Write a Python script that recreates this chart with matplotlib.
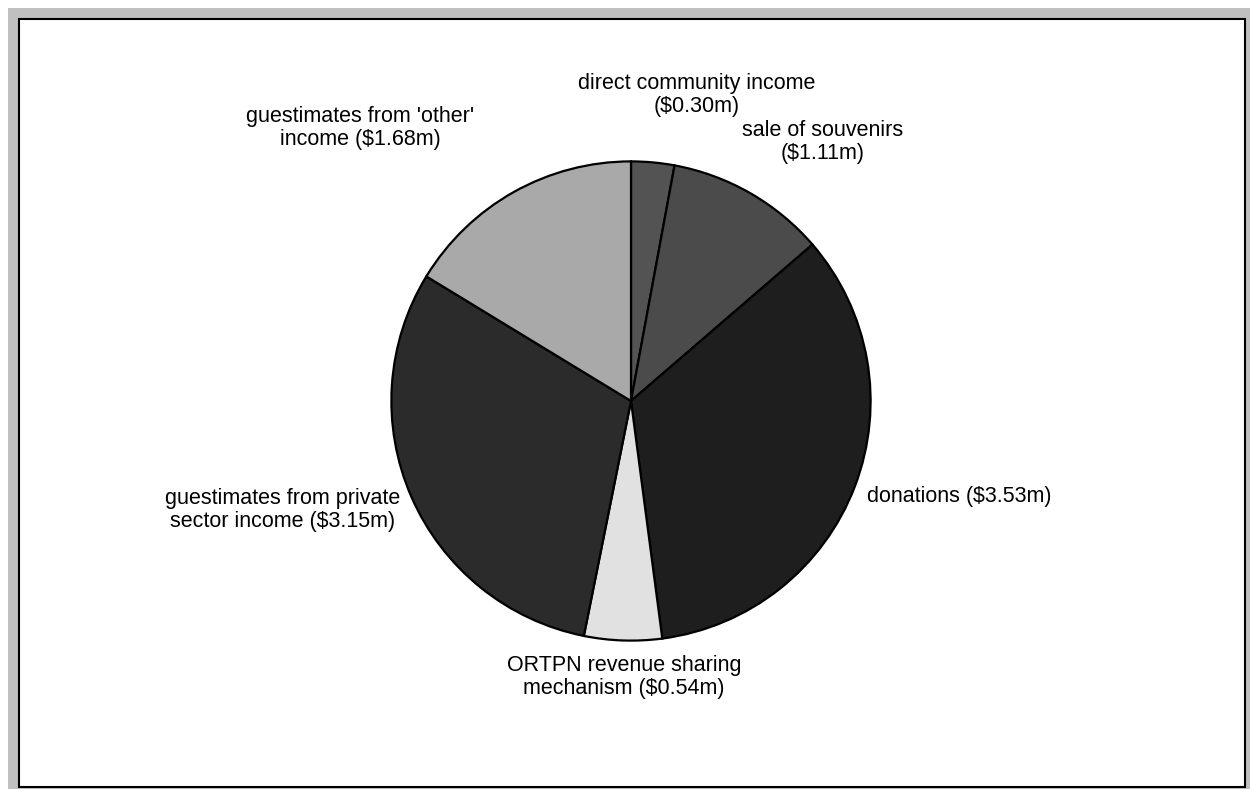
import matplotlib.pyplot as plt
from matplotlib.patches import Rectangle

plt.rcParams['font.family'] = ['Liberation Sans', 'DejaVu Sans']

# income sources, in $ millions, clockwise from the top
labels = ['direct community income\n($0.30m)',
          'sale of souvenirs\n($1.11m)',
          'donations ($3.53m)',
          'ORTPN revenue sharing\nmechanism ($0.54m)',
          'guestimates from private\nsector income ($3.15m)',
          "guestimates from 'other'\nincome ($1.68m)"]
values = [0.30, 1.11, 3.53, 0.54, 3.15, 1.68]
colors = ['#535353', '#4b4b4b', '#1e1e1e', '#e1e1e1', '#2b2b2b', '#a9a9a9']

# label anchor points in pixels (x, y from top) and alignment
label_pos = [(697, 95, 'center'), (823, 142, 'center'), (867, 496, 'left'),
             (624, 677, 'center'), (283, 510, 'center'), (360, 128, 'center')]

W, H = 1250, 789
fig = plt.figure(figsize=(W / 100, H / 100), dpi=100)
fig.patch.set_facecolor('white')

# background layer in pixel units for the frame and labels
bg = fig.add_axes([0, 0, 1, 1])
bg.set_xlim(0, W)
bg.set_ylim(H, 0)
bg.axis('off')
bg.add_patch(Rectangle((8, 8), W - 8, H - 8, facecolor='#c0c0c0', edgecolor='none'))
bg.add_patch(Rectangle((18.5, 18.5), 1245 - 18.5, 786.5 - 18.5,
                       facecolor='white', edgecolor='black', linewidth=1.5))

for txt, (x, y, ha) in zip(labels, label_pos):
    bg.text(x, y, txt, ha=ha, va='center', fontsize=15.5, linespacing=1.08,
            multialignment='center', color='black')

# pie placed with centre (631, 401) and radius 242 px
cx, cy, r = 631, 401, 242
ax = fig.add_axes([(cx - r) / W, 1 - (cy + r) / H, 2 * r / W, 2 * r / H])
ax.pie(values, colors=colors, startangle=90, counterclock=False, radius=1,
       wedgeprops=dict(edgecolor='black', linewidth=1.6))
ax.set_xlim(-1.01, 1.01)
ax.set_ylim(-1.01, 1.01)
ax.set_aspect('auto')
ax.axis('off')

fig.savefig('out.png', dpi=100)
